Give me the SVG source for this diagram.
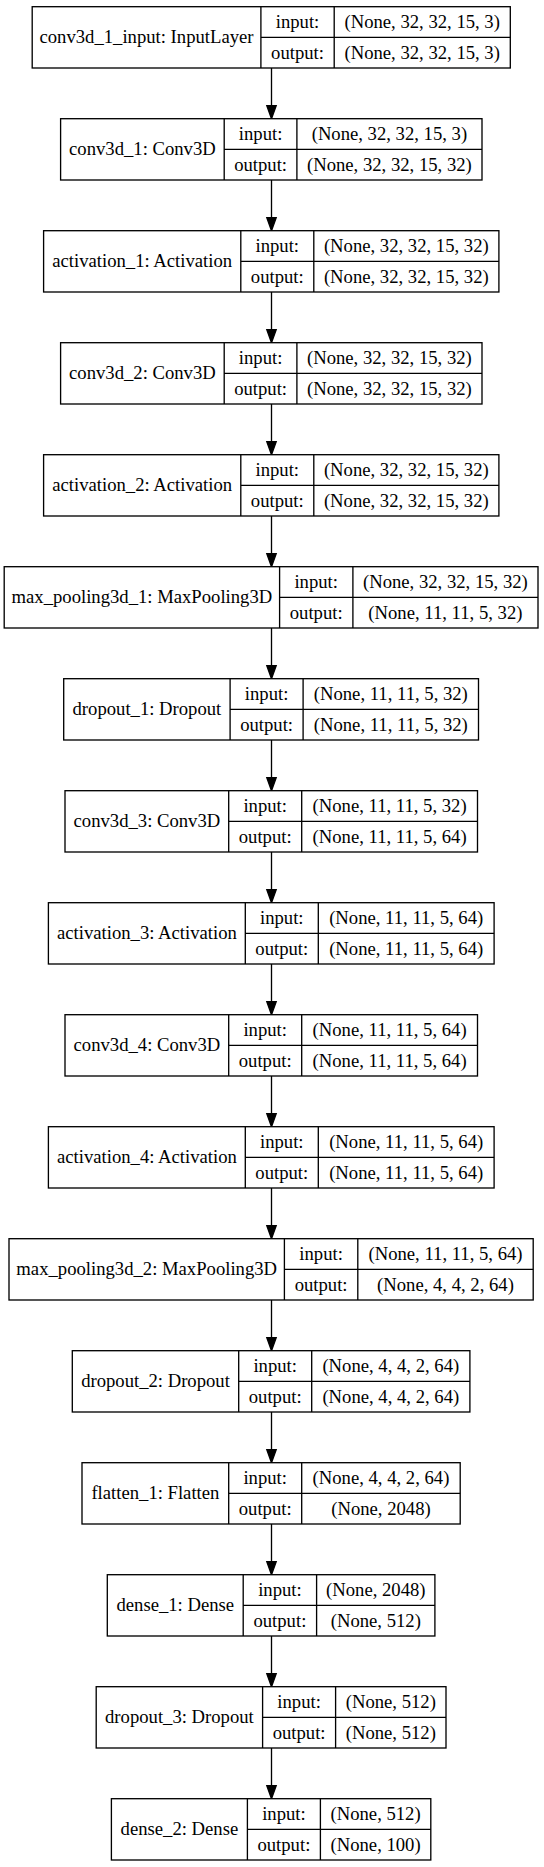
<svg xmlns="http://www.w3.org/2000/svg" width="544" height="1867" viewBox="0 0 544 1867">
<style>
.box{fill:#ffffff;stroke:#000000;stroke-width:1.33}
.div{stroke:#000000;stroke-width:1.33;fill:none}
.edge{stroke:#000000;stroke-width:1.33;fill:none}
.head{fill:#000000;stroke:#000000;stroke-width:1.33}
text{font-family:"Liberation Serif","Times New Roman",serif;font-size:18.67px;fill:#000000;text-anchor:middle}
</style>
<rect x="0" y="0" width="544" height="1867" fill="#ffffff"/>
<g id="connectors">
<path class="edge" d="M271.5,68 V105.7"/><polygon class="head" points="271.5,118.7 266.8,105.7 276.2,105.7"/>
<path class="edge" d="M271.5,180 V217.7"/><polygon class="head" points="271.5,230.7 266.8,217.7 276.2,217.7"/>
<path class="edge" d="M271.5,292 V329.7"/><polygon class="head" points="271.5,342.7 266.8,329.7 276.2,329.7"/>
<path class="edge" d="M271.5,404 V441.7"/><polygon class="head" points="271.5,454.7 266.8,441.7 276.2,441.7"/>
<path class="edge" d="M271.5,516 V553.7"/><polygon class="head" points="271.5,566.7 266.8,553.7 276.2,553.7"/>
<path class="edge" d="M271.5,628 V665.7"/><polygon class="head" points="271.5,678.7 266.8,665.7 276.2,665.7"/>
<path class="edge" d="M271.5,740 V777.7"/><polygon class="head" points="271.5,790.7 266.8,777.7 276.2,777.7"/>
<path class="edge" d="M271.5,852 V889.7"/><polygon class="head" points="271.5,902.7 266.8,889.7 276.2,889.7"/>
<path class="edge" d="M271.5,964 V1001.7"/><polygon class="head" points="271.5,1014.7 266.8,1001.7 276.2,1001.7"/>
<path class="edge" d="M271.5,1076 V1113.7"/><polygon class="head" points="271.5,1126.7 266.8,1113.7 276.2,1113.7"/>
<path class="edge" d="M271.5,1188 V1225.7"/><polygon class="head" points="271.5,1238.7 266.8,1225.7 276.2,1225.7"/>
<path class="edge" d="M271.5,1300 V1337.7"/><polygon class="head" points="271.5,1350.7 266.8,1337.7 276.2,1337.7"/>
<path class="edge" d="M271.5,1412 V1449.7"/><polygon class="head" points="271.5,1462.7 266.8,1449.7 276.2,1449.7"/>
<path class="edge" d="M271.5,1524 V1561.7"/><polygon class="head" points="271.5,1574.7 266.8,1561.7 276.2,1561.7"/>
<path class="edge" d="M271.5,1636 V1673.7"/><polygon class="head" points="271.5,1686.7 266.8,1673.7 276.2,1673.7"/>
<path class="edge" d="M271.5,1748 V1785.7"/><polygon class="head" points="271.5,1798.7 266.8,1785.7 276.2,1785.7"/>
</g>
<g id="node0">
<rect class="box" x="32.2" y="6.7" width="478.1" height="61.3"/>
<path class="div" d="M260.9,6.7 V68 M334.2,6.7 V68 M260.9,37.35 H510.3"/>
<text x="146.5" y="43.3">conv3d_1_input: InputLayer</text>
<text x="297.5" y="27.9">input:</text><text x="297.5" y="58.6">output:</text>
<text x="422.2" y="27.9">(None, 32, 32, 15, 3)</text><text x="422.2" y="58.6">(None, 32, 32, 15, 3)</text>
</g>
<g id="node1">
<rect class="box" x="60.6" y="118.7" width="421.4" height="61.3"/>
<path class="div" d="M224.2,118.7 V180 M296.9,118.7 V180 M224.2,149.35 H482"/>
<text x="142.4" y="155.3">conv3d_1: Conv3D</text>
<text x="260.6" y="139.9">input:</text><text x="260.6" y="170.6">output:</text>
<text x="389.4" y="139.9">(None, 32, 32, 15, 3)</text><text x="389.4" y="170.6">(None, 32, 32, 15, 32)</text>
</g>
<g id="node2">
<rect class="box" x="43.6" y="230.7" width="455.3" height="61.3"/>
<path class="div" d="M240.8,230.7 V292 M313.8,230.7 V292 M240.8,261.35 H498.9"/>
<text x="142.2" y="267.3">activation_1: Activation</text>
<text x="277.3" y="251.9">input:</text><text x="277.3" y="282.6">output:</text>
<text x="406.3" y="251.9">(None, 32, 32, 15, 32)</text><text x="406.3" y="282.6">(None, 32, 32, 15, 32)</text>
</g>
<g id="node3">
<rect class="box" x="60.6" y="342.7" width="421.4" height="61.3"/>
<path class="div" d="M224.2,342.7 V404 M296.9,342.7 V404 M224.2,373.35 H482"/>
<text x="142.4" y="379.3">conv3d_2: Conv3D</text>
<text x="260.6" y="363.9">input:</text><text x="260.6" y="394.6">output:</text>
<text x="389.4" y="363.9">(None, 32, 32, 15, 32)</text><text x="389.4" y="394.6">(None, 32, 32, 15, 32)</text>
</g>
<g id="node4">
<rect class="box" x="43.6" y="454.7" width="455.3" height="61.3"/>
<path class="div" d="M240.8,454.7 V516 M313.8,454.7 V516 M240.8,485.35 H498.9"/>
<text x="142.2" y="491.3">activation_2: Activation</text>
<text x="277.3" y="475.9">input:</text><text x="277.3" y="506.6">output:</text>
<text x="406.3" y="475.9">(None, 32, 32, 15, 32)</text><text x="406.3" y="506.6">(None, 32, 32, 15, 32)</text>
</g>
<g id="node5">
<rect class="box" x="4.2" y="566.7" width="533.8" height="61.3"/>
<path class="div" d="M279.6,566.7 V628 M352.9,566.7 V628 M279.6,597.35 H538"/>
<text x="141.9" y="603.3">max_pooling3d_1: MaxPooling3D</text>
<text x="316.2" y="587.9">input:</text><text x="316.2" y="618.6">output:</text>
<text x="445.4" y="587.9">(None, 32, 32, 15, 32)</text><text x="445.4" y="618.6">(None, 11, 11, 5, 32)</text>
</g>
<g id="node6">
<rect class="box" x="63.7" y="678.7" width="414.8" height="61.3"/>
<path class="div" d="M230.1,678.7 V740 M303.1,678.7 V740 M230.1,709.35 H478.5"/>
<text x="146.9" y="715.3">dropout_1: Dropout</text>
<text x="266.6" y="699.9">input:</text><text x="266.6" y="730.6">output:</text>
<text x="390.8" y="699.9">(None, 11, 11, 5, 32)</text><text x="390.8" y="730.6">(None, 11, 11, 5, 32)</text>
</g>
<g id="node7">
<rect class="box" x="65" y="790.7" width="412.5" height="61.3"/>
<path class="div" d="M228.7,790.7 V852 M301.7,790.7 V852 M228.7,821.35 H477.5"/>
<text x="146.9" y="827.3">conv3d_3: Conv3D</text>
<text x="265.2" y="811.9">input:</text><text x="265.2" y="842.6">output:</text>
<text x="389.6" y="811.9">(None, 11, 11, 5, 32)</text><text x="389.6" y="842.6">(None, 11, 11, 5, 64)</text>
</g>
<g id="node8">
<rect class="box" x="48.4" y="902.7" width="445.7" height="61.3"/>
<path class="div" d="M245.3,902.7 V964 M318.3,902.7 V964 M245.3,933.35 H494.1"/>
<text x="146.9" y="939.3">activation_3: Activation</text>
<text x="281.8" y="923.9">input:</text><text x="281.8" y="954.6">output:</text>
<text x="406.2" y="923.9">(None, 11, 11, 5, 64)</text><text x="406.2" y="954.6">(None, 11, 11, 5, 64)</text>
</g>
<g id="node9">
<rect class="box" x="65" y="1014.7" width="412.5" height="61.3"/>
<path class="div" d="M228.7,1014.7 V1076 M301.7,1014.7 V1076 M228.7,1045.35 H477.5"/>
<text x="146.9" y="1051.3">conv3d_4: Conv3D</text>
<text x="265.2" y="1035.9">input:</text><text x="265.2" y="1066.6">output:</text>
<text x="389.6" y="1035.9">(None, 11, 11, 5, 64)</text><text x="389.6" y="1066.6">(None, 11, 11, 5, 64)</text>
</g>
<g id="node10">
<rect class="box" x="48.4" y="1126.7" width="445.7" height="61.3"/>
<path class="div" d="M245.3,1126.7 V1188 M318.3,1126.7 V1188 M245.3,1157.35 H494.1"/>
<text x="146.9" y="1163.3">activation_4: Activation</text>
<text x="281.8" y="1147.9">input:</text><text x="281.8" y="1178.6">output:</text>
<text x="406.2" y="1147.9">(None, 11, 11, 5, 64)</text><text x="406.2" y="1178.6">(None, 11, 11, 5, 64)</text>
</g>
<g id="node11">
<rect class="box" x="9" y="1238.7" width="524.2" height="61.3"/>
<path class="div" d="M284.4,1238.7 V1300 M357.8,1238.7 V1300 M284.4,1269.35 H533.2"/>
<text x="146.7" y="1275.3">max_pooling3d_2: MaxPooling3D</text>
<text x="321.1" y="1259.9">input:</text><text x="321.1" y="1290.6">output:</text>
<text x="445.5" y="1259.9">(None, 11, 11, 5, 64)</text><text x="445.5" y="1290.6">(None, 4, 4, 2, 64)</text>
</g>
<g id="node12">
<rect class="box" x="72.3" y="1350.7" width="397.6" height="61.3"/>
<path class="div" d="M238.7,1350.7 V1412 M311.7,1350.7 V1412 M238.7,1381.35 H469.9"/>
<text x="155.5" y="1387.3">dropout_2: Dropout</text>
<text x="275.2" y="1371.9">input:</text><text x="275.2" y="1402.6">output:</text>
<text x="390.8" y="1371.9">(None, 4, 4, 2, 64)</text><text x="390.8" y="1402.6">(None, 4, 4, 2, 64)</text>
</g>
<g id="node13">
<rect class="box" x="82" y="1462.7" width="378.2" height="61.3"/>
<path class="div" d="M228.7,1462.7 V1524 M301.7,1462.7 V1524 M228.7,1493.35 H460.2"/>
<text x="155.4" y="1499.3">flatten_1: Flatten</text>
<text x="265.2" y="1483.9">input:</text><text x="265.2" y="1514.6">output:</text>
<text x="381" y="1483.9">(None, 4, 4, 2, 64)</text><text x="381" y="1514.6">(None, 2048)</text>
</g>
<g id="node14">
<rect class="box" x="107.3" y="1574.7" width="327.6" height="61.3"/>
<path class="div" d="M243.2,1574.7 V1636 M316.6,1574.7 V1636 M243.2,1605.35 H434.9"/>
<text x="175.3" y="1611.3">dense_1: Dense</text>
<text x="279.9" y="1595.9">input:</text><text x="279.9" y="1626.6">output:</text>
<text x="375.8" y="1595.9">(None, 2048)</text><text x="375.8" y="1626.6">(None, 512)</text>
</g>
<g id="node15">
<rect class="box" x="96.2" y="1686.7" width="349.8" height="61.3"/>
<path class="div" d="M262.6,1686.7 V1748 M335.6,1686.7 V1748 M262.6,1717.35 H446"/>
<text x="179.4" y="1723.3">dropout_3: Dropout</text>
<text x="299.1" y="1707.9">input:</text><text x="299.1" y="1738.6">output:</text>
<text x="390.8" y="1707.9">(None, 512)</text><text x="390.8" y="1738.6">(None, 512)</text>
</g>
<g id="node16">
<rect class="box" x="111.4" y="1798.7" width="319.4" height="61.3"/>
<path class="div" d="M247.4,1798.7 V1860 M320.4,1798.7 V1860 M247.4,1829.35 H430.8"/>
<text x="179.4" y="1835.3">dense_2: Dense</text>
<text x="283.9" y="1819.9">input:</text><text x="283.9" y="1850.6">output:</text>
<text x="375.6" y="1819.9">(None, 512)</text><text x="375.6" y="1850.6">(None, 100)</text>
</g>
</svg>
